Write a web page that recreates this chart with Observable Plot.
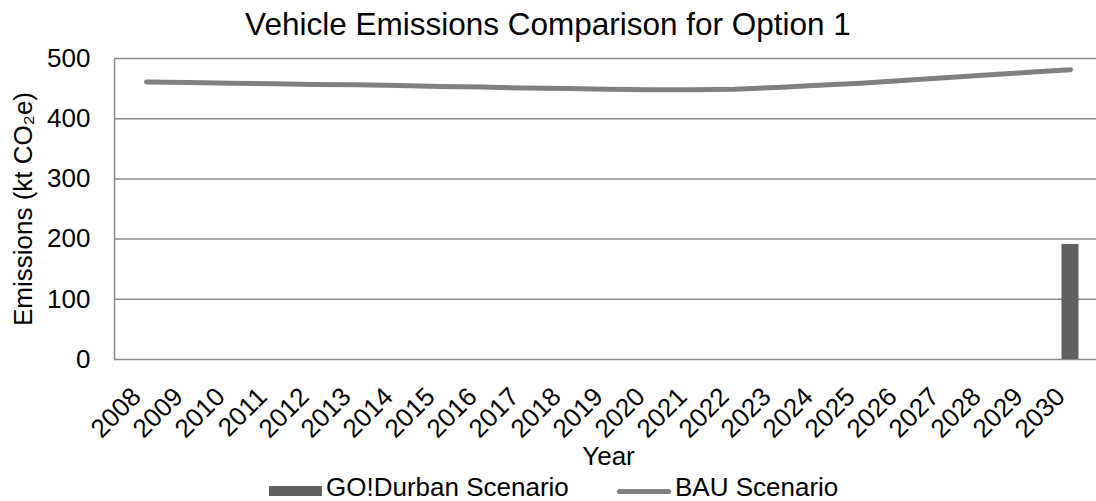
<!DOCTYPE html>
<html>
<head>
<meta charset="utf-8">
<script src="https://cdn.jsdelivr.net/npm/d3@7"></script>
<script src="https://cdn.jsdelivr.net/npm/@observablehq/plot@0.6"></script>
<style>
  html, body { margin: 0; padding: 0; background: #fff; overflow: hidden; }
  body { width: 1096px; height: 501px; font-family: "Liberation Sans", Arial, sans-serif; color: #000; }
  #title { height: 48px; line-height: 48px; font-size: 31.5px; text-align: center; white-space: nowrap; }
  #chart svg { max-width: none !important; display: block; }
  #legend { position: relative; height: 23px; font-size: 26px; line-height: 23px; }
  #legend .sw, #legend .lab { position: absolute; }
  #legend .lab { top: -2.5px; white-space: nowrap; }
</style>
</head>
<body>
<div id="title"></div>
<div id="chart"></div>
<div id="legend"></div>
<script>
// ---- data ----
const titleText = "Vehicle Emissions Comparison for Option 1";
const xLabel = "Year";
const yLabel = "Emissions (kt CO₂e)";
const years = ["2008","2009","2010","2011","2012","2013","2014","2015","2016","2017","2018","2019",
               "2020","2021","2022","2023","2024","2025","2026","2027","2028","2029","2030"];
const bauValues = [461, 460, 459, 458, 457, 456.5, 455, 453.5, 452.5, 451, 450, 449,
                   448, 448, 449, 452, 455.5, 459, 463.5, 468, 472.5, 477, 481.5];
const goDurbanValues = [null, null, null, null, null, null, null, null, null, null, null, null,
                        null, null, null, null, null, null, null, null, null, null, 191];
const yTicks = [0, 100, 200, 300, 400, 500];
const seriesNames = ["GO!Durban Scenario", "BAU Scenario"];
const barColor = "#616161";
const lineColor = "#808080";
const gridColor = "#8c8c8c";

const bauRows = years.map((year, i) => ({year, value: bauValues[i]}));
const goRows = years.map((year, i) => ({year, value: goDurbanValues[i]})).filter(d => d.value != null);

document.getElementById("title").textContent = titleText;

const chart = Plot.plot({
  width: 1102,
  height: 430,
  marginTop: 10,
  marginBottom: 119,
  marginLeft: 114,
  marginRight: 0,
  style: {fontFamily: "Liberation Sans, Arial, sans-serif", fontSize: "25px", color: "#000", background: "#fff", overflow: "visible"},
  x: {type: "band", domain: years, padding: 0},
  y: {domain: [0, 500]},
  marks: [
    Plot.ruleY(yTicks, {stroke: gridColor, strokeWidth: 1.5}),
    Plot.frame({anchor: "left", stroke: gridColor, strokeWidth: 1.5}),
    Plot.barY(goRows, {x: "year", y: "value", fill: barColor, insetLeft: 12.5, insetRight: 12.5}),
    Plot.line(bauRows, {x: "year", y: "value", stroke: lineColor, strokeWidth: 5, strokeLinecap: "round", strokeLinejoin: "round"}),
    Plot.axisY({ticks: yTicks, tickSize: 0, tickPadding: 24, label: null, fontSize: 26}),
    Plot.axisX({tickRotate: -45, tickSize: 0, tickPadding: 33, dx: -10, label: null, fontSize: 26}),
    Plot.text([yLabel], {text: d => d, frameAnchor: "left", textAnchor: "middle", rotate: -90, dx: -91, fontSize: 26}),
    Plot.text([xLabel], {text: d => d, frameAnchor: "bottom", dy: 105, fontSize: 26})
  ]
});
document.getElementById("chart").appendChild(chart);

// legend
const legend = document.getElementById("legend");
legend.innerHTML =
  `<div class="sw" style="left:269px;top:8px;width:53px;height:10px;background:${barColor}"></div>` +
  `<div class="lab" style="left:326px">${seriesNames[0]}</div>` +
  `<div class="sw" style="left:617px;top:10.5px;width:54px;height:5px;border-radius:2.5px;background:${lineColor}"></div>` +
  `<div class="lab" style="left:675px">${seriesNames[1]}</div>`;
</script>
</body>
</html>
